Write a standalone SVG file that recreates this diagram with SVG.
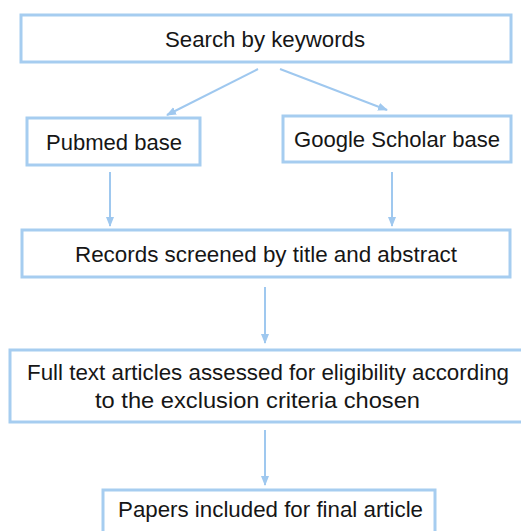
<svg xmlns="http://www.w3.org/2000/svg" width="521" height="531" viewBox="0 0 521 531">
<style>
.box{fill:#fff;stroke:#a6cdf0;stroke-width:3}
.lbl{font-family:"Liberation Sans",Arial,Helvetica,sans-serif;font-size:22px;fill:#161616}
.edge{stroke:#9fc8ef;stroke-width:2;fill:none}
</style>
<defs>
<marker id="ah" markerUnits="userSpaceOnUse" markerWidth="10" markerHeight="10" viewBox="0 0 10 10" refX="9" refY="5" orient="auto">
<path d="M0,1 L10,5 L0,9 Z" fill="#9fc8ef"/>
</marker>
</defs>
<rect width="521" height="531" fill="#fff"/>
<g id="n-search">
<rect class="box" x="21" y="15" width="490" height="47"/>
<text class="lbl" x="165" y="47" textLength="200" lengthAdjust="spacingAndGlyphs">Search by keywords</text>
</g>
<g id="n-pubmed">
<rect class="box" x="27" y="118" width="173" height="47"/>
<text class="lbl" x="46" y="150" textLength="136" lengthAdjust="spacingAndGlyphs">Pubmed base</text>
</g>
<g id="n-google">
<rect class="box" x="283" y="116" width="228" height="46"/>
<text class="lbl" x="294" y="147" textLength="206" lengthAdjust="spacingAndGlyphs">Google Scholar base</text>
</g>
<g id="n-records">
<rect class="box" x="22" y="230" width="488" height="47"/>
<text class="lbl" x="75" y="262" textLength="382" lengthAdjust="spacingAndGlyphs">Records screened by title and abstract</text>
</g>
<g id="n-fulltext">
<rect class="box" x="10" y="350" width="514" height="72"/>
<text class="lbl" x="27" y="380" textLength="482" lengthAdjust="spacingAndGlyphs">Full text articles assessed for eligibility according</text>
<text class="lbl" x="95" y="408" textLength="325" lengthAdjust="spacingAndGlyphs">to the exclusion criteria chosen</text>
</g>
<g id="n-papers">
<rect class="box" x="103" y="490" width="332" height="60"/>
<text class="lbl" x="118" y="517" textLength="305" lengthAdjust="spacingAndGlyphs">Papers included for final article</text>
</g>
<g id="connectors">
<line class="edge" x1="258" y1="69" x2="167" y2="115" marker-end="url(#ah)"/>
<line class="edge" x1="280" y1="69" x2="387" y2="110" marker-end="url(#ah)"/>
<line class="edge" x1="110" y1="172" x2="110" y2="226" marker-end="url(#ah)"/>
<line class="edge" x1="392" y1="172" x2="392" y2="226" marker-end="url(#ah)"/>
<line class="edge" x1="265" y1="287" x2="265" y2="343" marker-end="url(#ah)"/>
<line class="edge" x1="265" y1="430" x2="265" y2="485" marker-end="url(#ah)"/>
</g>
</svg>
